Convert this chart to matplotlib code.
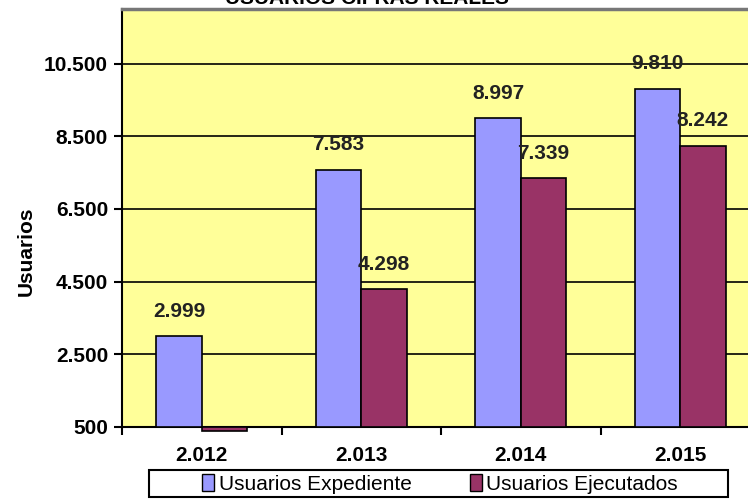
import matplotlib
matplotlib.use("Agg")
import matplotlib.pyplot as plt
from matplotlib.patches import Patch, Rectangle
import numpy as np

# datos
years = ["2.012", "2.013", "2.014", "2.015"]
expediente = [2999, 7583, 8997, 9810]
ejecutados = [0, 4298, 7339, 8242]
yticks = [500, 2500, 4500, 6500, 8500, 10500]

plt.rcParams["font.family"] = ["Liberation Sans", "DejaVu Sans"]

fig = plt.figure(figsize=(7.48, 5.0), dpi=100)
ax = fig.add_axes([122 / 748, 73 / 500, 638 / 748, 418 / 500])
ax.set_facecolor("#FFFF99")

base = 500
x = np.arange(len(years))
w = 0.285
off = 0.1425

ax.bar(x - off, [v - base for v in expediente], w, bottom=base,
       color="#9999FF", edgecolor="black", linewidth=1.2, zorder=3)
# valores bajo el minimo del eje: solo una franja fina bajo el eje
h_ej = [v - base if v >= base else -110 for v in ejecutados]
ax.bar(x + off, h_ej, w, bottom=base, color="#993366",
       edgecolor="black", linewidth=1.2, zorder=3, clip_on=False)

def fmt(v):
    return f"{v:,}".replace(",", ".")

for i, v in enumerate(expediente):
    ax.text(x[i] - off, v + 420, fmt(v), ha="center", va="bottom",
            fontsize=15, fontweight="bold", color="#222222", zorder=4)
for i, v in enumerate(ejecutados):
    if v >= base:
        ax.text(x[i] + off, v + 420, fmt(v), ha="center", va="bottom",
                fontsize=15, fontweight="bold", color="#222222", zorder=4)

ax.set_xlim(-0.5, len(years) - 0.5)
ax.set_ylim(500, 12000)
ax.set_yticks(yticks)
ax.set_yticklabels([fmt(t) for t in yticks], fontsize=15, fontweight="bold")
ax.yaxis.grid(True, color="black", linewidth=1.2, zorder=1)
ax.set_axisbelow(True)

ax.set_xticks(np.arange(len(years) + 1) - 0.5)
ax.set_xticklabels([])
ax.set_xticks(x, minor=True)
ax.set_xticklabels(years, minor=True, fontsize=15, fontweight="bold")
ax.tick_params(axis="x", which="minor", length=0, pad=14)
ax.tick_params(axis="x", which="major", length=6, width=1.5, direction="out")
ax.tick_params(axis="y", length=6, width=1.5, direction="out", pad=4)

for s in ax.spines.values():
    s.set_linewidth(1.5)
ax.spines["top"].set_color("#777777")
ax.spines["top"].set_linewidth(2.5)

ax.set_ylabel("Usuarios", fontsize=15, fontweight="bold")
ax.yaxis.set_label_coords(-0.135, 0.42)

# titulo, cortado por el borde superior como en el original
fig.text(367 / 748, 1.0 - 4 / 500, "USUARIOS CIFRAS REALES", ha="center",
         va="baseline", fontsize=15, fontweight="bold")

handles = [Patch(facecolor="#9999FF", edgecolor="black"),
           Patch(facecolor="#993366", edgecolor="black")]
leg = fig.legend(handles, ["Usuarios Expediente", "Usuarios Ejecutados"],
                 loc="center", bbox_to_anchor=(440 / 748, 1 - 484 / 500),
                 ncol=2, fontsize=15, frameon=False,
                 handlelength=0.6, handleheight=0.9, handletextpad=0.2,
                 columnspacing=2.8, borderpad=0.1, borderaxespad=0)
# marco de la leyenda
fig.patches.append(Rectangle((149 / 748, 1 - 497 / 500), 579 / 748, 27 / 500,
                             transform=fig.transFigure, fill=False,
                             edgecolor="black", linewidth=1.5))

fig.savefig("out.png", dpi=100)
